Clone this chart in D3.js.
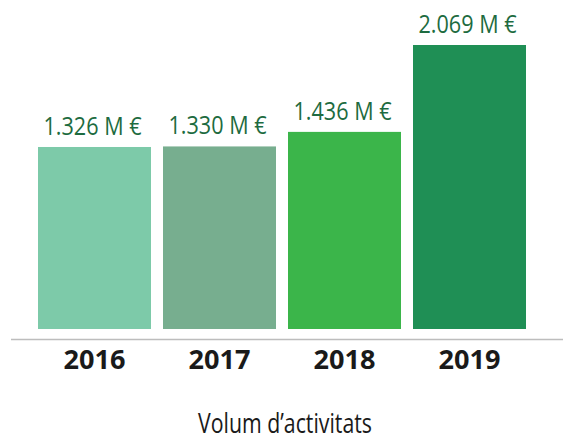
<!DOCTYPE html>
<html>
<head>
<meta charset="utf-8">
<script src="https://cdn.jsdelivr.net/npm/d3@7"></script>
<style>
  html, body { margin: 0; padding: 0; background: #fff; }
</style>
</head>
<body>
<svg id="chart" width="563" height="445"></svg>
<script>
// data
const years = ['2016', '2017', '2018', '2019']
const values = [1.326, 1.330, 1.436, 2.069]
const labels = ['1.326 M €', '1.330 M €', '1.436 M €', '2.069 M €']
const colors = ['#7dcaa9', '#77ae8f', '#3bb54a', '#1f8f55']
const title = 'Volum d’activitats'

const width = 563
const height = 445

const svg = d3.select('#chart')

const x = d3.scaleBand()
  .domain(years)
  .range([38, 526])
  .paddingInner(0.096)
  .paddingOuter(0)

const y = d3.scaleLinear()
  .domain([0, d3.max(values)])
  .range([329, 45])

const data = years.map((d, i) => ({ year: d, value: values[i], label: labels[i], color: colors[i] }))

// bars
svg.append('g')
  .attr('id', 'bars')
  .selectAll('rect')
  .data(data)
  .join('rect')
  .attr('x', d => x(d.year))
  .attr('y', d => y(d.value))
  .attr('width', x.bandwidth())
  .attr('height', d => y(0) - y(d.value))
  .attr('fill', d => d.color)

// value labels
svg.append('g')
  .attr('id', 'values')
  .selectAll('text')
  .data(data)
  .join('text')
  .attr('x', d => x(d.year) + x.bandwidth() / 2 - 2)
  .attr('y', d => y(d.value) - 12)
  .attr('text-anchor', 'middle')
  .attr('font-family', '"Open Sans", sans-serif')
  .attr('font-size', 25.5)
  .attr('fill', '#1d6b40')
  .attr('textLength', 98)
  .attr('lengthAdjust', 'spacingAndGlyphs')
  .text(d => d.label)

// baseline
svg.append('line')
  .attr('x1', 11)
  .attr('x2', width)
  .attr('y1', 339.5)
  .attr('y2', 339.5)
  .attr('stroke', '#bdbdbd')
  .attr('stroke-width', 1.6)

// x axis labels
const xAxis = d3.axisBottom(x).tickSize(0).tickPadding(0)
const axisG = svg.append('g')
  .attr('transform', 'translate(0,346)')
  .call(xAxis)
axisG.select('.domain').remove()
axisG.selectAll('text')
  .attr('dy', 0)
  .attr('y', 23)
  .attr('font-family', '"Open Sans", sans-serif')
  .attr('font-weight', 'bold')
  .attr('font-size', 27.5)
  .attr('fill', '#1a1a1a')
  .attr('textLength', 62)
  .attr('lengthAdjust', 'spacingAndGlyphs')

// title
svg.append('text')
  .attr('x', 285)
  .attr('y', 433)
  .attr('text-anchor', 'middle')
  .attr('font-family', '"Open Sans", sans-serif')
  .attr('font-size', 27)
  .attr('fill', '#1a1a1a')
  .attr('textLength', 174)
  .attr('lengthAdjust', 'spacingAndGlyphs')
  .text(title)
</script>
</body>
</html>
